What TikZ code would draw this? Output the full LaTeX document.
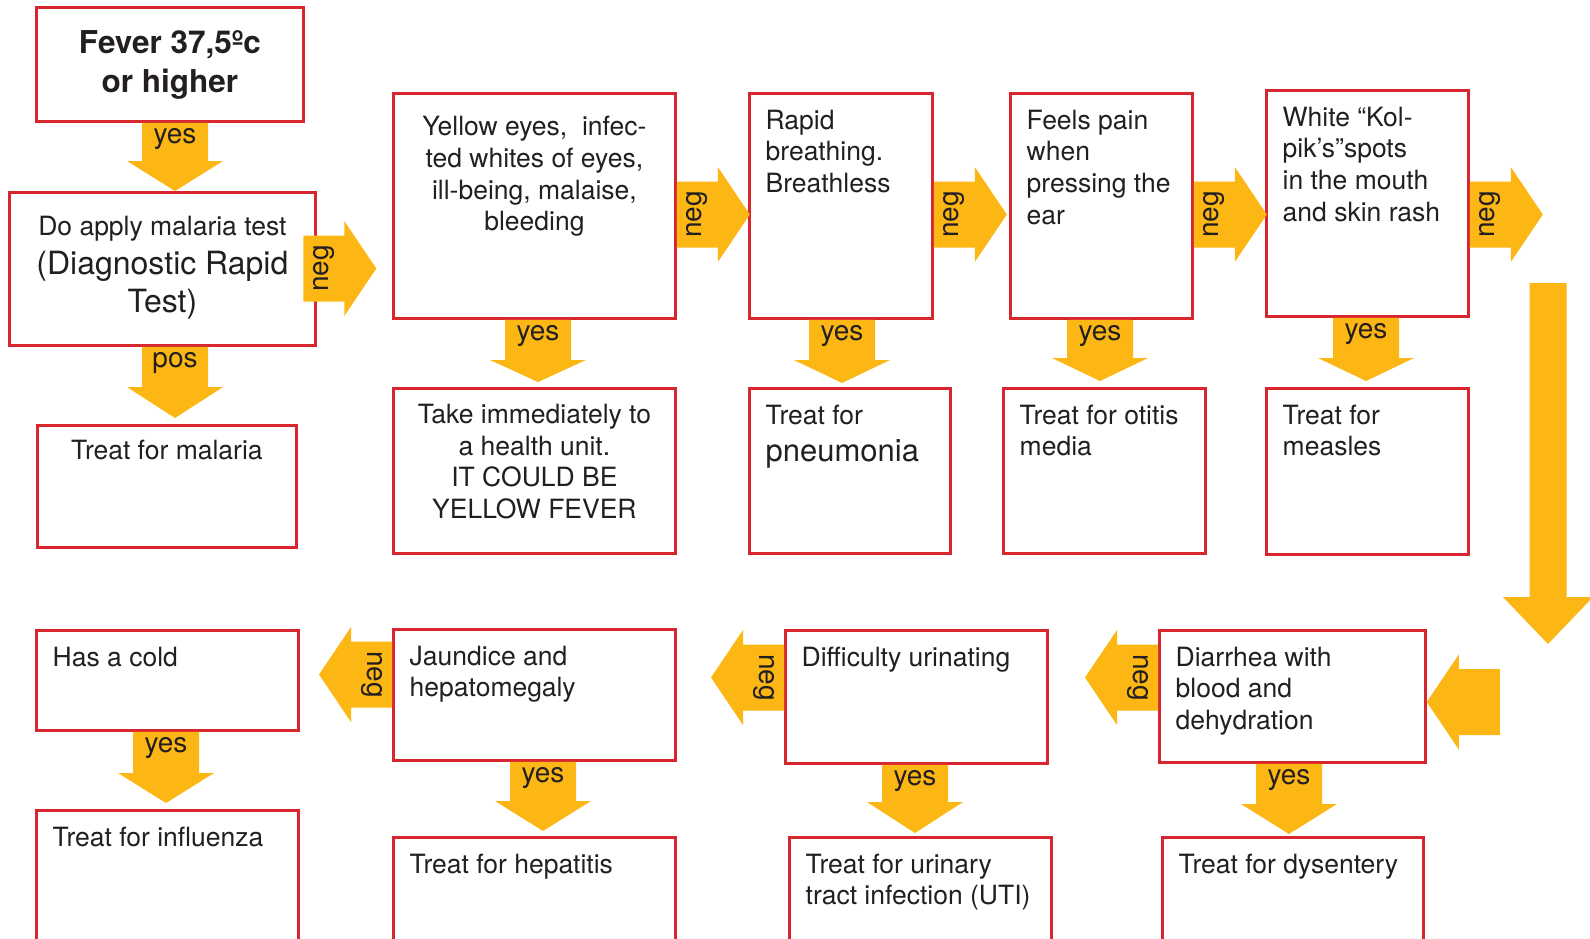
\documentclass[tikz,border=0pt]{standalone}
\usepackage{fontspec}
\setmainfont{TeX Gyre Heros}
\usetikzlibrary{positioning,calc}
\definecolor{BoxRed}{HTML}{D8262F}
\definecolor{FlowGold}{HTML}{FCB715}
\definecolor{InkGray}{HTML}{231F20}

\begin{document}
\begin{tikzpicture}[x=1pt,y=-1pt,text=InkGray,
    font=\fontsize{26.5}{31.7}\selectfont,
    cell/.style args={#1 by #2}{draw=BoxRed,line width=2.8pt,
        anchor=north west,inner sep=0pt,
        minimum width=#1pt,minimum height=#2pt},
    cell text/.style={below right=17.5pt and 17.5pt of #1.north west,
        inner sep=0pt,align=left},
    cell title/.style args={#1 below #2}{below=#1pt of #2.north,
        inner sep=0pt,align=center},
    flow/.style={fill=FlowGold},
    tag/.style={inner sep=0pt,font=\fontsize{28}{30}\selectfont}]
  \fill[white] (0,0) rectangle (1590,938);
  \useasboundingbox (0,0) rectangle (1590,938);
  \clip (0,0) rectangle (1590,938);
  % boxes
  \node[cell={267 by 114}] (fever) at (35,6) {};
  \node[cell={306 by 153}] (test) at (8,191) {};
  \node[cell={259 by 122}] (malaria) at (36,424) {};
  \node[cell={282 by 225}] (eyes) at (392,92) {};
  \node[cell={282 by 165}] (take) at (392,387) {};
  \node[cell={183 by 225}] (rapid) at (748,92) {};
  \node[cell={201 by 165}] (pneu) at (748,387) {};
  \node[cell={182 by 225}] (feels) at (1009,92) {};
  \node[cell={202 by 165}] (otitis) at (1002,387) {};
  \node[cell={202 by 226}] (white) at (1265,89) {};
  \node[cell={202 by 166}] (measles) at (1265,387) {};
  \node[cell={262 by 100}] (cold) at (35,629) {};
  \node[cell={262 by 150}] (flu) at (35,809) {};
  \node[cell={282 by 131}] (jaundice) at (392,628) {};
  \node[cell={282 by 130}] (hepa) at (392,836) {};
  \node[cell={262 by 133}] (urin) at (784,629) {};
  \node[cell={262 by 130}] (uti) at (788,836) {};
  \node[cell={266 by 132}] (diarrhea) at (1158,629) {};
  \node[cell={261 by 130}] (dysen) at (1161,836) {};
  % texts
  \node[cell title={24.5 below fever},font=\bfseries\fontsize{31.5}{39}\selectfont]
    (fevert) {Fever 37,5ºc\\or higher};
  \node[cell title={25 below test},font=\fontsize{32}{38.5}\selectfont] (testt)
    {{\fontsize{26.5}{38.5}\selectfont Do apply malaria test}\\(Diagnostic Rapid\\Test)};
  \node[cell title={16 below malaria}] (malariat) {Treat for malaria};
  \node[cell title={24 below eyes}] (eyest)
    {Yellow eyes,~ infec-\\ted whites of eyes,\\ill-being, malaise,\\bleeding};
  \node[cell title={17 below take}] (taket)
    {Take immediately to\\a health unit.\\IT COULD BE\\YELLOW FEVER};
  \node[cell text=rapid] (rapidt) {Rapid\\breathing.\\Breathless};
  \node[cell text=pneu] (pneut) {Treat for\\[5.5pt]{\fontsize{31}{33}\selectfont pneumonia}};
  \node[cell text=feels] (feelst) {Feels pain\\when\\pressing the\\ear};
  \node[cell text=otitis] (otitist) {Treat for otitis\\media};
  \node[cell text=white] (whitet) {White “Kol-\\pik’s”spots\\in the mouth\\and skin rash};
  \node[cell text=measles] (measlest) {Treat for\\measles};
  \node[cell text=cold] (coldt) {Has a cold};
  \node[cell text=flu] (flut) {Treat for influenza};
  \node[cell text=jaundice] (jaundicet) {Jaundice and\\hepatomegaly};
  \node[cell text=hepa] (hepat) {Treat for hepatitis};
  \node[cell text=urin] (urint) {Difficulty urinating};
  \node[cell text=uti] (utit) {Treat for urinary\\tract infection (UTI)};
  \node[cell text=diarrhea] (diarrheat) {Diarrhea with\\blood and\\dehydration};
  \node[cell text=dysen] (dysent) {Treat for dysentery};
  % arrows
  \foreach \S/\D/\X/\G/\L/\T in {fever/test/175/0/30/yes, test/malaria/175/6/31/pos,
      eyes/take/538/5/22/yes, rapid/pneu/842/4/23/yes, feels/otitis/1100/6/23/yes,
      white/measles/1366/6/23/yes, cold/flu/166/6/30/yes, jaundice/hepa/543/5/30/yes,
      urin/uti/915/3/31/yes, diarrhea/dysen/1289/2/30/yes}{
    \fill[flow] let \p1=(\S.south), \p2=(\D.north), \n1={\y2+\G*1pt}, \n2={\n1+\L*1pt} in
      (\X*1pt-33pt,\y1) -- (\X*1pt+33pt,\y1) -- (\X*1pt+33pt,\n2) -- (\X*1pt+48pt,\n2)
      -- (\X*1pt,\n1) -- (\X*1pt-48pt,\n2) -- (\X*1pt-33pt,\n2) -- cycle;
    \node[tag,anchor=north,yshift=-5.6pt] at (\S.south -| \X,0) {\T};
  }
  \foreach \S/\A/\Y/\O/\F in {test/east/268.5/-13.5/1, eyes/east/214.5/0/1,
      rapid/east/214.5/0/1, feels/east/214.5/0/1, white/east/214.5/0/1,
      diarrhea/west/677.5/0/-1, urin/west/677.5/0/-1, jaundice/west/674.5/0/-1}{
    \fill[flow,shift={(\S.\A |- 0,\Y)},xscale=\F] (\O,-33) -- (\O+41,-33) -- (\O+41,-47.5)
      -- (\O+73,0) -- (\O+41,47.5) -- (\O+41,33) -- (\O,33) -- cycle;
    \node[tag,xshift={\F*(\O+20.5)*1pt},rotate=90*\F] at (\S.\A |- 0,\Y) {neg};
  }
  \coordinate (drop) at (1548,283);
  \coordinate (dropend) at (1548,644);
  \fill[flow] let \p1=(drop), \p2=(dropend) in
    (\x1-18.5pt,\y1) -- (\x1+18.5pt,\y1) -- (\x1+18.5pt,\y2+47pt) -- (\x1+45pt,\y2+47pt)
    -- (\p2) -- (\x1-45pt,\y2+47pt) -- (\x1-18.5pt,\y2+47pt) -- cycle;
  \fill[flow,shift={(diarrhea.east |- 0,702)}] (0,0) -- (32,-47.5) -- (32,-33) -- (73,-33)
    -- (73,33) -- (32,33) -- (32,47.5) -- cycle;
\end{tikzpicture}
\end{document}
